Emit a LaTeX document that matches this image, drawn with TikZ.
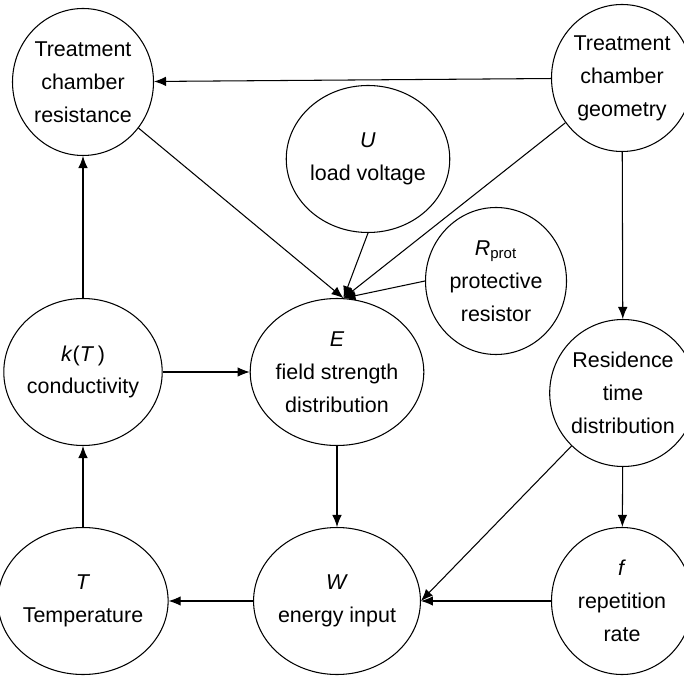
\documentclass[tikz,border=0pt]{standalone}
\usepackage{fontspec}
\setmainfont{Liberation Sans}
\usepackage{tikz}
\usetikzlibrary{shapes.geometric,arrows.meta}
\tikzstyle{factor}=[ellipse,draw,inner sep=0pt,minimum width=28.2mm,minimum height=29.4mm,align=center,font=\fontsize{12.2}{18.7}\selectfont]
\newcommand{\factor}{\node[factor]}

\begin{document}
\begin{tikzpicture}[x=0.2mm,y=-0.2mm,line width=0.6pt,>={Latex[length=2.4mm,width=1.9mm]}]
    \useasboundingbox (0,0) rectangle (684,677);
    \factor (tcr) at (83,82) {Treatment\\chamber\\resistance};
    \factor (tcg) at (622,78) {Treatment\\chamber\\geometry};
    \factor (U) at (368,159) {\textit{U}\\load voltage};
    \factor (R) at (496,281) {\textit{R}\textsubscript{prot}\\protective\\resistor};
    \factor (k) at (83,372) {\textit{k}(\textit{T}\,)\\conductivity};
    \factor (E) at (337,372) {\textit{E}\\field strength\\distribution};
    \factor (rtd) at (623,393) {Residence\\time\\distribution};
    \factor (T) at (83,601) {\textit{T}\\Temperature};
    \factor (W) at (337,601) {\textit{W}\\energy input};
    \factor (f) at (622,601) {\textit{f}\\repetition\\rate};
    \path[->]
    (tcg) edge (tcr)
    (tcr) edge (E.85)
    (U.south) edge (E.85)
    (tcg) edge (E.85)
    (R.west) edge (E.85)
    (tcg) edge (rtd)
    (k) edge (tcr)
    (k) edge (E)
    (E) edge (W)
    (T) edge (k)
    (W) edge (T)
    (rtd) edge (W.east)
    (f) edge (W.east)
    (rtd) edge (f);
\end{tikzpicture}
\end{document}
